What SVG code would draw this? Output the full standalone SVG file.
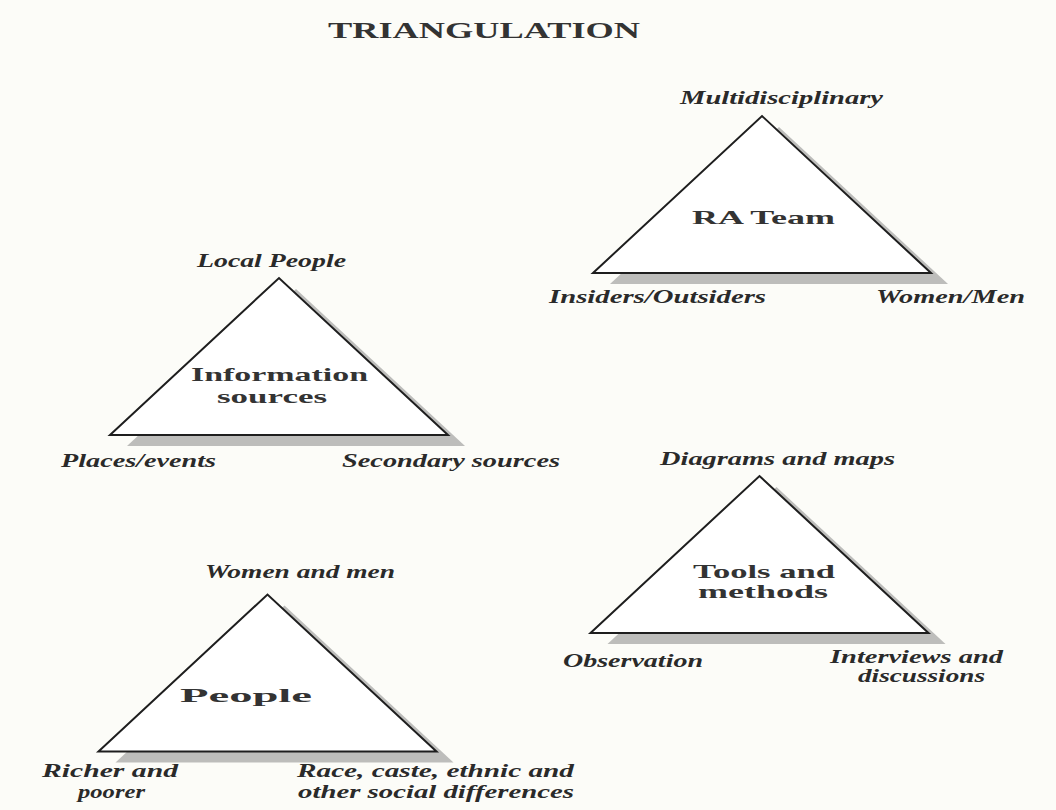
<svg xmlns="http://www.w3.org/2000/svg" xmlns:xlink="http://www.w3.org/1999/xlink" width="1056" height="810" viewBox="0 0 1056 810">
  <style>
    .tri { fill: #ffffff; stroke: #1e1e1e; stroke-width: 2; stroke-linejoin: miter; }
    .shadow { fill: #bdbdbb; stroke: none; }
    .t { font-family: "Liberation Serif", "Times New Roman", serif; font-weight: bold; fill: #2a2a2a; }
    .title { font-size: 23px; fill: #333333; }
    .lbl { font-size: 18px; font-style: italic; }
    .ctr { font-size: 19.5px; fill: #333333; }
  </style>
  <defs>
    <path id="triShape" d="M0,157 L169,0 L338,157 Z"/>
  </defs>
  <rect x="0" y="0" width="1056" height="810" fill="#fcfcf8"/>

  <text class="t title" x="328" y="38" textLength="312" lengthAdjust="spacingAndGlyphs">TRIANGULATION</text>

  <g id="ra-team">
    <use xlink:href="#triShape" href="#triShape" class="shadow" transform="translate(610,127)"/>
    <use xlink:href="#triShape" href="#triShape" class="tri" transform="translate(593,116)"/>
    <text class="t ctr" x="692" y="224" textLength="143" lengthAdjust="spacingAndGlyphs">RA Team</text>
    <text class="t lbl" x="680" y="104" textLength="203" lengthAdjust="spacingAndGlyphs">Multidisciplinary</text>
    <text class="t lbl" x="549" y="303" textLength="217" lengthAdjust="spacingAndGlyphs">Insiders/Outsiders</text>
    <text class="t lbl" x="876" y="303" textLength="149" lengthAdjust="spacingAndGlyphs">Women/Men</text>
  </g>

  <g id="information-sources">
    <use xlink:href="#triShape" href="#triShape" class="shadow" transform="translate(127,289)"/>
    <use xlink:href="#triShape" href="#triShape" class="tri" transform="translate(110,278)"/>
    <text class="t ctr" x="191" y="381" textLength="177" lengthAdjust="spacingAndGlyphs">Information</text>
    <text class="t ctr" x="217" y="403" textLength="110" lengthAdjust="spacingAndGlyphs">sources</text>
    <text class="t lbl" x="197" y="267" textLength="149" lengthAdjust="spacingAndGlyphs">Local People</text>
    <text class="t lbl" x="61" y="467" textLength="155" lengthAdjust="spacingAndGlyphs">Places/events</text>
    <text class="t lbl" x="342" y="467" textLength="218" lengthAdjust="spacingAndGlyphs">Secondary sources</text>
  </g>

  <g id="tools-and-methods">
    <use xlink:href="#triShape" href="#triShape" class="shadow" transform="translate(607.5,487)"/>
    <use xlink:href="#triShape" href="#triShape" class="tri" transform="translate(590.5,476)"/>
    <text class="t ctr" x="693" y="578" textLength="142" lengthAdjust="spacingAndGlyphs">Tools and</text>
    <text class="t ctr" x="698" y="598" textLength="130" lengthAdjust="spacingAndGlyphs">methods</text>
    <text class="t lbl" x="660" y="465" textLength="235" lengthAdjust="spacingAndGlyphs">Diagrams and maps</text>
    <text class="t lbl" x="563" y="667" textLength="140" lengthAdjust="spacingAndGlyphs">Observation</text>
    <text class="t lbl" x="830" y="663" textLength="173" lengthAdjust="spacingAndGlyphs">Interviews and</text>
    <text class="t lbl" x="858" y="682" textLength="127" lengthAdjust="spacingAndGlyphs">discussions</text>
  </g>

  <g id="people">
    <use xlink:href="#triShape" href="#triShape" class="shadow" transform="translate(115.5,605.5)"/>
    <use xlink:href="#triShape" href="#triShape" class="tri" transform="translate(98.5,594.5)"/>
    <text class="t ctr" x="180" y="702" textLength="132" lengthAdjust="spacingAndGlyphs">People</text>
    <text class="t lbl" x="205" y="578" textLength="190" lengthAdjust="spacingAndGlyphs">Women and men</text>
    <text class="t lbl" x="42" y="777" textLength="136" lengthAdjust="spacingAndGlyphs">Richer and</text>
    <text class="t lbl" x="78" y="798" textLength="67" lengthAdjust="spacingAndGlyphs">poorer</text>
    <text class="t lbl" x="297" y="777" textLength="277" lengthAdjust="spacingAndGlyphs">Race, caste, ethnic and</text>
    <text class="t lbl" x="298" y="798" textLength="276" lengthAdjust="spacingAndGlyphs">other social differences</text>
  </g>
</svg>
